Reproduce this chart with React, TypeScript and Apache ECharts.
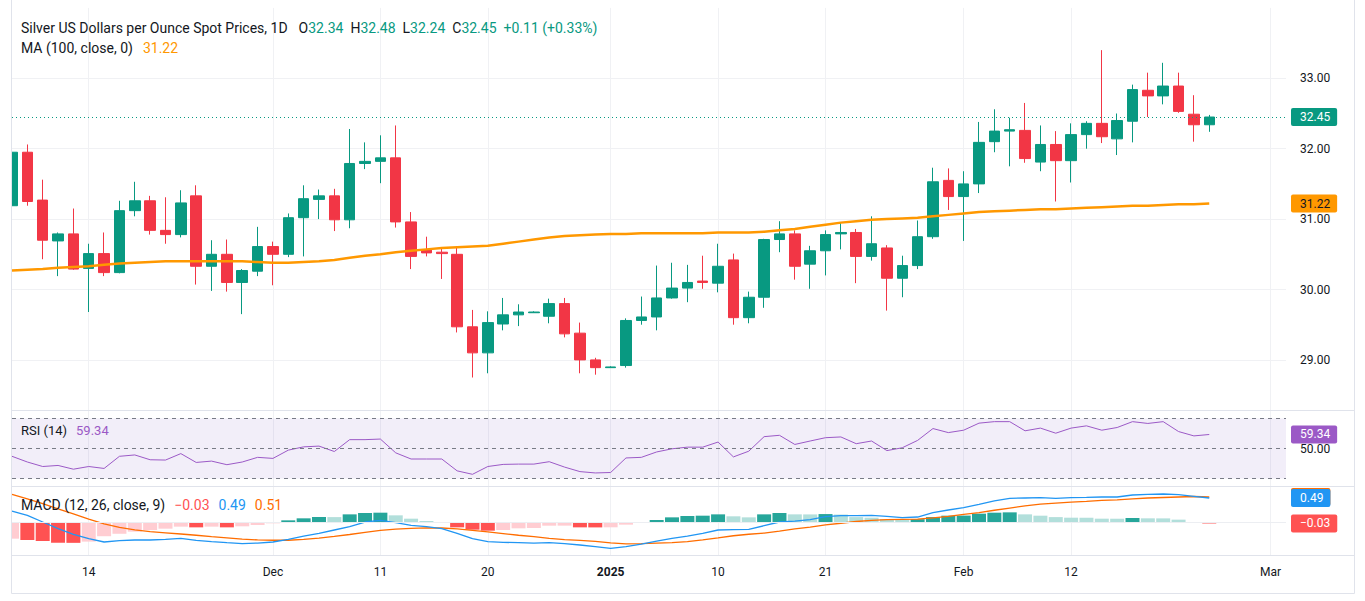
import React, { useEffect, useRef } from 'react';
import * as echarts from 'echarts';

// ---- data (daily candles, 7 Nov 2024 .. 25 Feb 2025) ----
const opens = [
  31.19, 31.95, 31.27, 30.69, 30.79, 30.30, 30.51, 30.24, 31.12, 31.26,
  30.84, 30.78, 31.33, 30.33, 30.50, 30.10, 30.26, 30.61, 30.50, 31.02,
  31.28, 31.33, 30.99, 31.79, 31.82, 31.87, 30.96, 30.56, 30.53, 30.50,
  29.47, 29.10, 29.51, 29.64, 29.67, 29.62, 29.80, 29.38, 29.00, 28.89,
  28.92, 29.56, 29.61, 29.88, 30.02, 30.12, 30.09, 30.42, 29.60, 29.89,
  30.71, 30.79, 30.36, 30.55, 30.79, 30.81, 30.47, 30.59, 30.16, 30.34,
  30.75, 31.55, 31.32, 31.50, 32.10, 32.25, 32.26, 31.81, 32.06, 31.83,
  32.20, 32.36, 32.14, 32.39, 32.83, 32.75, 32.89, 32.49, 32.34,
];
const highs = [
  32.17, 32.06, 31.56, 30.81, 31.15, 30.65, 30.81, 31.26, 31.53, 31.33,
  31.31, 31.41, 31.48, 30.70, 30.71, 30.29, 30.89, 30.68, 31.08, 31.48,
  31.42, 31.43, 32.28, 32.09, 32.19, 32.33, 31.10, 30.75, 30.60, 30.59,
  29.71, 29.69, 29.88, 29.79, 29.69, 29.87, 29.88, 29.53, 29.03, 28.91,
  29.59, 29.90, 30.34, 30.38, 30.35, 30.48, 30.65, 30.51, 29.97, 30.72,
  30.97, 30.84, 30.62, 30.84, 30.95, 30.86, 31.04, 30.63, 30.48, 30.98,
  31.73, 31.72, 31.68, 32.38, 32.56, 32.44, 32.65, 32.33, 32.25, 32.36,
  32.39, 33.40, 32.50, 32.91, 33.08, 33.22, 33.08, 32.76, 32.48,
];
const lows = [
  30.88, 31.19, 30.43, 30.19, 30.28, 29.68, 30.19, 30.23, 31.04, 30.78,
  30.65, 30.74, 30.07, 29.98, 29.97, 29.65, 30.19, 30.06, 30.46, 30.47,
  31.00, 30.83, 30.87, 31.71, 31.51, 30.88, 30.29, 30.47, 30.15, 29.39,
  28.75, 28.81, 29.42, 29.48, 29.67, 29.52, 29.32, 28.81, 28.79, 28.89,
  28.89, 29.50, 29.42, 29.87, 29.82, 30.01, 29.96, 29.50, 29.52, 29.74,
  30.53, 30.14, 30.01, 30.20, 30.57, 30.09, 30.41, 29.70, 29.89, 30.29,
  30.72, 31.13, 30.69, 31.37, 31.95, 31.75, 31.80, 31.68, 31.25, 31.52,
  32.00, 32.08, 31.91, 32.09, 32.45, 32.63, 32.51, 32.10, 32.24,
];
const closes = [
  31.95, 31.25, 30.70, 30.79, 30.29, 30.51, 30.24, 31.12, 31.26, 30.84,
  30.78, 31.23, 30.33, 30.50, 30.10, 30.27, 30.61, 30.50, 31.02, 31.29,
  31.33, 30.99, 31.79, 31.82, 31.87, 30.96, 30.47, 30.52, 30.51, 29.47,
  29.10, 29.53, 29.64, 29.68, 29.68, 29.80, 29.37, 29.00, 28.89, 28.90,
  29.56, 29.61, 29.88, 30.02, 30.10, 30.10, 30.33, 29.60, 29.89, 30.71,
  30.79, 30.33, 30.55, 30.78, 30.81, 30.47, 30.65, 30.16, 30.34, 30.75,
  31.53, 31.32, 31.50, 32.09, 32.25, 32.27, 31.86, 32.06, 31.83, 32.20,
  32.36, 32.17, 32.40, 32.84, 32.75, 32.89, 32.53, 32.34, 32.45,
];
const ma100 = [
  30.27, 30.28, 30.29, 30.31, 30.32, 30.33, 30.35, 30.37, 30.38, 30.39,
  30.40, 30.40, 30.40, 30.40, 30.40, 30.40, 30.39, 30.38, 30.38, 30.39,
  30.40, 30.42, 30.45, 30.48, 30.50, 30.53, 30.55, 30.57, 30.59, 30.60,
  30.61, 30.62, 30.65, 30.68, 30.71, 30.74, 30.76, 30.77, 30.78, 30.79,
  30.79, 30.80, 30.80, 30.80, 30.80, 30.80, 30.81, 30.81, 30.81, 30.82,
  30.84, 30.86, 30.89, 30.92, 30.95, 30.97, 30.99, 31.00, 31.01, 31.02,
  31.04, 31.06, 31.08, 31.10, 31.11, 31.12, 31.13, 31.14, 31.14, 31.15,
  31.16, 31.17, 31.18, 31.19, 31.19, 31.20, 31.21, 31.21, 31.22,
];
const rsi14 = [
  44.8, 41.0, 38.0, 38.7, 36.2, 38.0, 36.7, 44.8, 45.7, 42.5,
  42.3, 46.6, 40.7, 41.6, 39.2, 41.0, 44.1, 43.4, 48.9, 51.1,
  51.6, 48.0, 55.9, 55.9, 56.3, 47.1, 43.0, 43.0, 43.0, 35.1,
  32.8, 38.0, 39.4, 39.6, 39.6, 41.2, 37.6, 34.6, 33.7, 34.0,
  43.7, 44.1, 47.7, 49.8, 50.9, 50.9, 54.3, 44.4, 48.2, 57.9,
  58.8, 52.7, 55.0, 57.2, 57.7, 53.2, 55.0, 48.6, 50.5, 55.4,
  63.3, 60.6, 62.2, 66.9, 67.9, 67.9, 61.8, 63.6, 60.2, 63.6,
  65.1, 62.2, 64.0, 67.9, 66.7, 67.9, 61.3, 58.4, 59.34,
];
const macdLine = [
  0.224, 0.136, 0.0, -0.136, -0.252, -0.34, -0.408, -0.381, -0.367, -0.367,
  -0.354, -0.333, -0.374, -0.401, -0.422, -0.442, -0.429, -0.408, -0.354, -0.286,
  -0.231, -0.163, -0.095, 0.0, 0.034, -0.014, -0.068, -0.095, -0.136, -0.231,
  -0.34, -0.401, -0.415, -0.422, -0.429, -0.422, -0.442, -0.469, -0.503, -0.537,
  -0.503, -0.449, -0.388, -0.333, -0.286, -0.231, -0.163, -0.156, -0.15, -0.075,
  0.0, 0.02, 0.048, 0.11, 0.129, 0.129, 0.136, 0.116, 0.088, 0.102,
  0.19, 0.245, 0.293, 0.36, 0.429, 0.483, 0.49, 0.497, 0.483, 0.497,
  0.503, 0.51, 0.51, 0.551, 0.565, 0.571, 0.558, 0.524, 0.49,
];
const signalLine = [
  0.564, 0.47, 0.375, 0.27, 0.165, 0.06, -0.04, -0.11, -0.16, -0.195,
  -0.22, -0.245, -0.27, -0.30, -0.325, -0.35, -0.365, -0.372, -0.372, -0.355,
  -0.33, -0.295, -0.255, -0.21, -0.17, -0.145, -0.13, -0.12, -0.122, -0.14,
  -0.17, -0.20, -0.235, -0.27, -0.30, -0.335, -0.36, -0.375, -0.395, -0.425,
  -0.445, -0.44, -0.43, -0.42, -0.40, -0.365, -0.325, -0.28, -0.25, -0.225,
  -0.185, -0.14, -0.105, -0.06, -0.025, 0.01, 0.035, 0.05, 0.055, 0.06,
  0.085, 0.115, 0.155, 0.19, 0.24, 0.285, 0.33, 0.365, 0.385, 0.405,
  0.42, 0.44, 0.45, 0.47, 0.49, 0.50, 0.51, 0.52, 0.51,
];
const macdHist = [
  -0.34, -0.367, -0.388, -0.422, -0.425, -0.40, -0.29, -0.24, -0.197, -0.163,
  -0.136, -0.095, -0.109, -0.095, -0.109, -0.088, -0.061, -0.027, 0.034, 0.075,
  0.102, 0.10, 0.156, 0.184, 0.19, 0.136, 0.068, 0.02, -0.02, -0.109,
  -0.156, -0.177, -0.163, -0.129, -0.122, -0.075, -0.074, -0.109, -0.11, -0.108,
  -0.054, -0.02, 0.041, 0.095, 0.122, 0.129, 0.156, 0.116, 0.095, 0.156,
  0.184, 0.156, 0.155, 0.162, 0.152, 0.10, 0.088, 0.061, 0.054, 0.058,
  0.10, 0.129, 0.131, 0.17, 0.19, 0.197, 0.156, 0.129, 0.10, 0.088,
  0.087, 0.068, 0.067, 0.082, 0.075, 0.074, 0.048, -0.01, -0.03,
];
const tickIndex = [5, 17, 24, 31, 39, 46, 53, 62, 69, 82];
const tickLabels = ['14', 'Dec', '11', '20', '2025', '10', '21', 'Feb', '12', 'Mar'];
const SLOTS = 84;

const FONT = 'Roboto, "Noto Sans", sans-serif';
const TXT = '#131722';
const UP = '#089981';
const DOWN = '#F23645';
const GRIDC = '#f0f1f4';
const FRAME = '#e0e3eb';
const RSI_C = '#9b59c6';
const MACD_C = '#2196F3';
const SIG_C = '#FF6D00';
const HF = 14; // header font size

const fmt = (v: number) => (v < 0 ? '\u2212' + Math.abs(v).toFixed(2) : v.toFixed(2));
const last = (a: number[]) => a[a.length - 1];

function tag(bg: string, text: string, color = '#ffffff') {
  return {
    show: true,
    position: 'end',
    distance: 5,
    formatter: text,
    color,
    backgroundColor: bg,
    padding: [3, 7, 3, 9],
    borderRadius: 2,
    fontSize: 12,
    fontFamily: FONT,
  };
}

function histColor(i: number) {
  const h = macdHist[i];
  const p = i > 0 ? macdHist[i - 1] : -Infinity;
  if (h >= 0) return h > p ? '#26A69A' : '#B2DFDB';
  return h < p ? '#FF5252' : '#FFCDD2';
}

function frameLine(x1: number, y1: number, x2: number, y2: number) {
  return { type: 'line', z: 60, silent: true, shape: { x1, y1, x2, y2 }, style: { stroke: FRAME, lineWidth: 1 } };
}

function buildOption() {
  const cats = Array.from({ length: SLOTS }, (_, i) => String(i));
  const isTick = (i: number) => tickIndex.indexOf(i) >= 0;
  const left = 12;
  const right = 1286;
  const w = right - left;

  const xAxis = [0, 1, 2].map((g) => ({
    type: 'category',
    gridIndex: g,
    data: cats,
    boundaryGap: false,
    axisLine: { show: false },
    axisTick: { show: false },
    axisLabel:
      g === 2
        ? {
            show: true,
            interval: (i: number) => isTick(i),
            formatter: (_v: string, i: number) => {
              const k = tickIndex.indexOf(i);
              if (k < 0) return '';
              return tickLabels[k] === '2025' ? '{b|2025}' : tickLabels[k];
            },
            margin: 11,
            color: TXT,
            fontSize: 12,
            fontFamily: FONT,
            rich: { b: { fontWeight: 'bold', fontSize: 12, fontFamily: FONT, color: TXT } },
          }
        : { show: false },
    splitLine: { show: true, interval: (i: number) => isTick(i), lineStyle: { color: GRIDC, width: 1 } },
  }));

  const lastClose = last(closes);

  return {
    animation: false,
    backgroundColor: '#ffffff',
    grid: [
      { left, top: 7.9, width: w, height: 422.4 },
      { left, top: 411, width: w, height: 75 },
      { left, top: 487, width: w, height: 68 },
    ],
    xAxis,
    yAxis: [
      {
        type: 'value',
        gridIndex: 0,
        position: 'right',
        min: 28,
        max: 34,
        interval: 1,
        axisLine: { show: false },
        axisTick: { show: false },
        axisLabel: {
          showMinLabel: false,
          showMaxLabel: false,
          formatter: (v: number) => v.toFixed(2),
          margin: 14,
          color: TXT,
          fontSize: 12,
          fontFamily: FONT,
        },
        splitLine: { show: true, showMinLine: false, showMaxLine: false, lineStyle: { color: GRIDC } },
      },
      {
        type: 'value',
        gridIndex: 1,
        position: 'right',
        min: 25,
        max: 75,
        interval: 25,
        axisLine: { show: false },
        axisTick: { show: false },
        axisLabel: {
          showMinLabel: false,
          showMaxLabel: false,
          formatter: (v: number) => v.toFixed(2),
          margin: 14,
          color: TXT,
          fontSize: 12,
          fontFamily: FONT,
        },
        splitLine: { show: false },
      },
      {
        type: 'value',
        gridIndex: 2,
        position: 'right',
        min: -0.673,
        max: 0.714,
        axisLine: { show: false },
        axisTick: { show: false },
        axisLabel: { show: false },
        splitLine: { show: false },
      },
    ],
    graphic: [
      // white margin left of the plot so the first, half-visible candle is cut at the frame
      { type: 'rect', z: 59, silent: true, shape: { x: 0, y: 0, width: 11.5, height: 601 }, style: { fill: '#ffffff' } },
      frameLine(11.5, 0, 11.5, 593.5),
      frameLine(1354.5, 0, 1354.5, 593.5),
      frameLine(11.5, 593.5, 1354.5, 593.5),
      frameLine(11.5, 410.5, 1354.5, 410.5),
      frameLine(11.5, 486.5, 1354.5, 486.5),
      frameLine(11.5, 555.5, 1354.5, 555.5),
      {
        type: 'text',
        x: 21,
        y: 28,
        z: 100,
        style: {
          text:
            '{t|Silver US Dollars per Ounce Spot Prices, 1D}{s1| }{t|O}{g|' + last(opens).toFixed(2) +
            '}{s| }{t|H}{g|' + last(highs).toFixed(2) +
            '}{s| }{t|L}{g|' + last(lows).toFixed(2) +
            '}{s| }{t|C}{g|' + lastClose.toFixed(2) +
            '}{s| }{g|+0.11 (+0.33%)}',
          verticalAlign: 'middle',
          rich: {
            t: { fill: TXT, fontSize: HF, fontFamily: FONT },
            g: { fill: UP, fontSize: HF, fontFamily: FONT },
            s: { width: 7, fontSize: HF },
            s1: { width: 11, fontSize: HF },
          },
        },
      },
      {
        type: 'text',
        x: 21,
        y: 48,
        z: 100,
        style: {
          text: '{t|MA (100, close, 0)}{s| }{o|' + last(ma100).toFixed(2) + '}',
          verticalAlign: 'middle',
          rich: {
            t: { fill: TXT, fontSize: HF, fontFamily: FONT },
            o: { fill: '#FF9800', fontSize: HF, fontFamily: FONT },
            s: { width: 10, fontSize: HF },
          },
        },
      },
      {
        type: 'text',
        x: 21,
        y: 430,
        z: 100,
        style: {
          text: '{t|RSI (14)}{s| }{p|' + last(rsi14).toFixed(2) + '}',
          verticalAlign: 'middle',
          rich: {
            t: { fill: TXT, fontSize: 13, fontFamily: FONT },
            p: { fill: RSI_C, fontSize: 13, fontFamily: FONT },
            s: { width: 9, fontSize: 13 },
          },
        },
      },
      {
        type: 'text',
        x: 21,
        y: 505,
        z: 100,
        style: {
          text:
            '{t|MACD (12, 26, close, 9)}{s| }{r|' + fmt(last(macdHist)) + '}{s| }{b|' + fmt(last(macdLine)) +
            '}{s| }{o|' + fmt(last(signalLine)) + '}',
          verticalAlign: 'middle',
          rich: {
            t: { fill: TXT, fontSize: HF, fontFamily: FONT },
            r: { fill: '#FF5252', fontSize: HF, fontFamily: FONT },
            b: { fill: MACD_C, fontSize: HF, fontFamily: FONT },
            o: { fill: SIG_C, fontSize: HF, fontFamily: FONT },
            s: { width: 9, fontSize: HF },
          },
        },
      },
    ],
    series: [
      {
        type: 'candlestick',
        name: 'Silver',
        xAxisIndex: 0,
        yAxisIndex: 0,
        barWidth: 11,
        data: opens.map((o, i) => [o, closes[i], lows[i], highs[i]]),
        itemStyle: { color: UP, color0: DOWN, borderColor: UP, borderColor0: DOWN, borderWidth: 1 },
        markLine: {
          silent: true,
          symbol: ['none', 'none'],
          data: [
            {
              yAxis: lastClose,
              lineStyle: { color: UP, type: [1, 3], width: 1 },
              label: tag(UP, lastClose.toFixed(2)),
            },
          ],
        },
      },
      {
        type: 'line',
        name: 'MA',
        xAxisIndex: 0,
        yAxisIndex: 0,
        data: ma100,
        showSymbol: false,
        smooth: false,
        lineStyle: { color: '#FF9800', width: 2.5 },
        itemStyle: { color: '#FF9800' },
        markLine: {
          silent: true,
          symbol: ['none', 'none'],
          data: [
            {
              yAxis: last(ma100),
              lineStyle: { color: 'rgba(0,0,0,0)', width: 1 },
              label: tag('#FF9800', last(ma100).toFixed(2), TXT),
            },
          ],
        },
      },
      {
        type: 'line',
        name: 'RSI',
        xAxisIndex: 1,
        yAxisIndex: 1,
        data: rsi14,
        showSymbol: false,
        lineStyle: { color: RSI_C, width: 1 },
        itemStyle: { color: RSI_C },
        markArea: {
          silent: true,
          itemStyle: { color: 'rgba(126,87,194,0.1)' },
          data: [[{ yAxis: 30 }, { yAxis: 70 }]],
        },
        markLine: {
          silent: true,
          symbol: ['none', 'none'],
          data: [
            { yAxis: 70, lineStyle: { color: '#787b86', type: [4, 4], width: 1 }, label: { show: false } },
            { yAxis: 50, lineStyle: { color: '#787b86', type: [4, 4], width: 1 }, label: { show: false } },
            { yAxis: 30, lineStyle: { color: '#787b86', type: [4, 4], width: 1 }, label: { show: false } },
            {
              yAxis: last(rsi14),
              lineStyle: { color: 'rgba(0,0,0,0)', width: 1 },
              label: tag(RSI_C, last(rsi14).toFixed(2)),
            },
          ],
        },
      },
      {
        type: 'bar',
        name: 'Histogram',
        xAxisIndex: 2,
        yAxisIndex: 2,
        barWidth: 14,
        data: macdHist.map((v, i) => ({ value: v, itemStyle: { color: histColor(i) } })),
        markLine: {
          silent: true,
          symbol: ['none', 'none'],
          data: [
            { yAxis: 0, lineStyle: { color: '#eceef2', type: 'solid', width: 1 }, label: { show: false } },
            {
              yAxis: last(macdHist),
              lineStyle: { color: 'rgba(0,0,0,0)', width: 1 },
              label: tag('#FF5252', fmt(last(macdHist))),
            },
          ],
        },
      },
      {
        type: 'line',
        name: 'Signal',
        xAxisIndex: 2,
        yAxisIndex: 2,
        data: signalLine,
        showSymbol: false,
        lineStyle: { color: SIG_C, width: 1.3 },
        itemStyle: { color: SIG_C },
        markLine: {
          silent: true,
          symbol: ['none', 'none'],
          data: [
            {
              yAxis: last(signalLine),
              lineStyle: { color: 'rgba(0,0,0,0)', width: 1 },
              label: tag(SIG_C, fmt(last(signalLine))),
            },
          ],
        },
      },
      {
        type: 'line',
        name: 'MACD',
        xAxisIndex: 2,
        yAxisIndex: 2,
        data: macdLine,
        showSymbol: false,
        lineStyle: { color: MACD_C, width: 1.3 },
        itemStyle: { color: MACD_C },
        markLine: {
          silent: true,
          symbol: ['none', 'none'],
          data: [
            {
              yAxis: last(macdLine),
              lineStyle: { color: 'rgba(0,0,0,0)', width: 1 },
              label: tag(MACD_C, fmt(last(macdLine))),
            },
          ],
        },
      },
    ],
  };
}

export default function App() {
  const ref = useRef<HTMLDivElement>(null);
  useEffect(() => {
    if (!ref.current) return;
    const chart = echarts.init(ref.current, null, { renderer: 'svg' });
    chart.setOption(buildOption() as any);
    return () => chart.dispose();
  }, []);
  return (
    <div
      ref={ref}
      style={{ position: 'absolute', left: 0, top: 0, width: 1365, height: 601, background: '#ffffff' }}
    />
  );
}
